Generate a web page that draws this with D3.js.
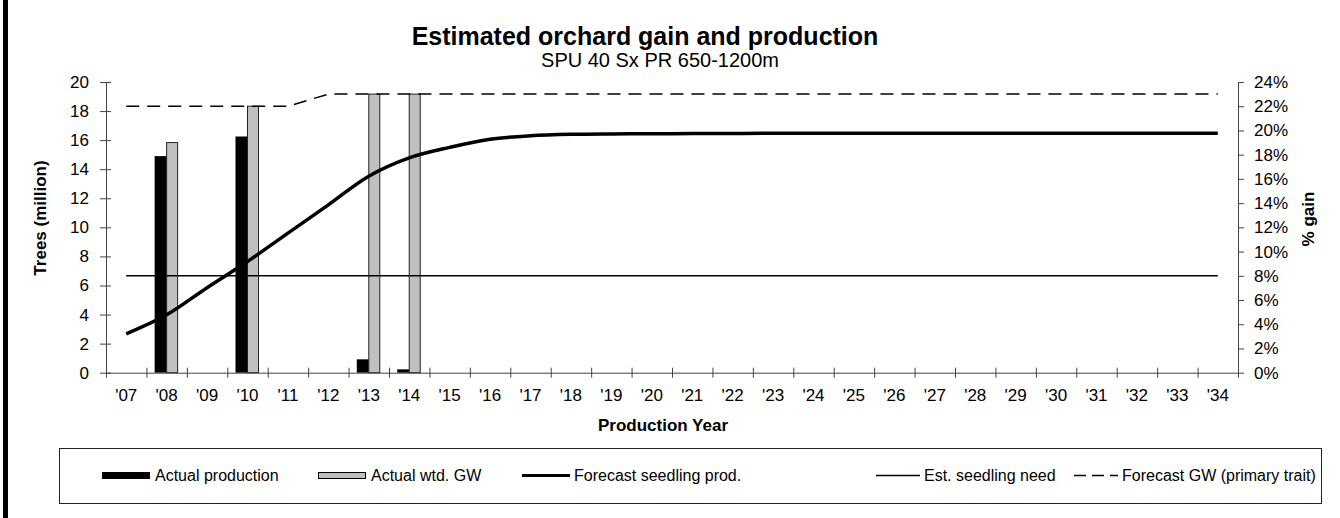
<!DOCTYPE html>
<html>
<head>
<meta charset="utf-8">
<script src="https://cdn.jsdelivr.net/npm/d3@7"></script>
<style>
  body { margin: 0; background: #fff; }
  svg { font-family: Arial, "Liberation Sans", sans-serif; }
  .axis text { font-size: 17px; fill: #000; }
  .axis path, .axis line { stroke: #444; }
  .legend text { font-size: 16px; }
</style>
</head>
<body>
<div id="chart"></div>
<script>
const years = ["'07","'08","'09","'10","'11","'12","'13","'14","'15","'16","'17","'18","'19","'20",
  "'21","'22","'23","'24","'25","'26","'27","'28","'29","'30","'31","'32","'33","'34"];
// million trees (left axis)
const actualProduction = [null, 14.9, null, 16.25, null, null, 0.92, 0.23];
const forecastSeedling = [2.67, 3.98, 5.85, 7.65, 9.6, 11.55, 13.52, 14.78, 15.5, 16.06, 16.3, 16.4,
  16.43, 16.44, 16.45, 16.46, 16.47, 16.47, 16.47, 16.47, 16.47, 16.47, 16.47, 16.47, 16.47, 16.47, 16.47, 16.47];
const seedlingNeed = 6.67;
// % gain (right axis)
const actualGW = [null, 19, null, 22, null, null, 23, 23];
const forecastGW = [22, 22, 22, 22, 22, 23, 23, 23, 23, 23, 23, 23, 23, 23,
  23, 23, 23, 23, 23, 23, 23, 23, 23, 23, 23, 23, 23, 23];
const leftTicks = [0, 2, 4, 6, 8, 10, 12, 14, 16, 18, 20];
const rightTicks = [0, 2, 4, 6, 8, 10, 12, 14, 16, 18, 20, 22, 24];

const W = 1340, H = 518;
const x0 = 106, x1 = 1238, yTop = 82, yBot = 372.7;

const svg = d3.select("#chart").append("svg").attr("width", W).attr("height", H);

const x = d3.scaleBand().domain(years).range([x0, x1]);
const xEdge = d3.scaleLinear().domain([0, years.length]).range([x0, x1]);
const sub = d3.scaleBand().domain(["prod", "gw"]).range([-12, 12]);
const yL = d3.scaleLinear().domain([0, 20]).range([yBot, yTop]);
const yR = d3.scaleLinear().domain([0, 24]).range([yBot, yTop]);
const cx = d => x(d) + x.bandwidth() / 2;

// left frame edge
svg.append("rect").attr("x", 3).attr("y", 0).attr("width", 5).attr("height", H).attr("fill", "#000");

// titles
svg.append("text").attr("x", 645).attr("y", 45).attr("text-anchor", "middle")
  .attr("font-size", 25).attr("font-weight", "bold").text("Estimated orchard gain and production");
svg.append("text").attr("x", 660).attr("y", 67).attr("text-anchor", "middle")
  .attr("font-size", 20).text("SPU 40 Sx PR 650-1200m");

// bars
const prodData = years.map((y, i) => ({ year: y, v: actualProduction[i] })).filter(d => d.v != null);
const gwData = years.map((y, i) => ({ year: y, v: actualGW[i] })).filter(d => d.v != null);

svg.append("g").selectAll("rect").data(prodData).enter().append("rect")
  .attr("x", d => cx(d.year) + sub("prod")).attr("width", sub.bandwidth())
  .attr("y", d => yL(d.v)).attr("height", d => yBot - yL(d.v)).attr("fill", "#000");

svg.append("g").selectAll("rect").data(gwData).enter().append("rect")
  .attr("x", d => cx(d.year) + sub("gw")).attr("width", sub.bandwidth() - 1)
  .attr("y", d => yR(d.v)).attr("height", d => yBot - yR(d.v))
  .attr("fill", "#c0c0c0").attr("stroke", "#222").attr("stroke-width", 1);

// lines
svg.append("line").attr("x1", cx(years[0])).attr("x2", cx(years[years.length - 1]))
  .attr("y1", yL(seedlingNeed)).attr("y2", yL(seedlingNeed)).attr("stroke", "#000").attr("stroke-width", 1.5);

svg.append("path").datum(forecastGW)
  .attr("d", d3.line().x((d, i) => cx(years[i])).y(d => yR(d)))
  .attr("fill", "none").attr("stroke", "#000").attr("stroke-width", 1.5).attr("stroke-dasharray", "13,8");

svg.append("path").datum(forecastSeedling)
  .attr("d", d3.line().x((d, i) => cx(years[i])).y(d => yL(d)).curve(d3.curveCatmullRom))
  .attr("fill", "none").attr("stroke", "#000").attr("stroke-width", 3.5);

// axes
const gL = svg.append("g").attr("class", "axis").attr("transform", `translate(${x0},0)`)
  .call(d3.axisLeft(yL).tickValues(leftTicks).tickSize(6).tickSizeOuter(0).tickPadding(11));
gL.selectAll(".tick line").attr("x1", 5);

svg.append("g").attr("class", "axis").attr("transform", `translate(${x1},0)`)
  .call(d3.axisRight(yR).tickValues(rightTicks).tickFormat(d => d + "%").tickSize(6).tickSizeOuter(0).tickPadding(10));

const gX = svg.append("g").attr("class", "axis").attr("transform", `translate(0,${yBot})`)
  .call(d3.axisBottom(xEdge).tickValues(d3.range(years.length + 1)).tickFormat("").tickSize(5).tickSizeOuter(0));
gX.selectAll(".tick line").attr("y1", -5);

const gXL = svg.append("g").attr("class", "axis").attr("transform", `translate(0,${yBot})`)
  .call(d3.axisBottom(x).tickSize(0).tickPadding(16));
gXL.select(".domain").remove();

svg.append("text").attr("x", 663).attr("y", 431).attr("text-anchor", "middle")
  .attr("font-size", 17).attr("font-weight", "bold").text("Production Year");
svg.append("text").attr("transform", "translate(46,218) rotate(-90)").attr("text-anchor", "middle")
  .attr("font-size", 17).attr("font-weight", "bold").text("Trees (million)");
svg.append("text").attr("transform", "translate(1314,219) rotate(-90)").attr("text-anchor", "middle")
  .attr("font-size", 17).attr("font-weight", "bold").text("% gain");

// legend
const lg = svg.append("g").attr("class", "legend");
lg.append("rect").attr("x", 59.5).attr("y", 448.5).attr("width", 1262).attr("height", 55)
  .attr("fill", "#fff").attr("stroke", "#222");
const ly = 475.5;
lg.append("rect").attr("x", 102).attr("y", ly - 3.5).attr("width", 48).attr("height", 7).attr("fill", "#000");
lg.append("rect").attr("x", 318.5).attr("y", ly - 3).attr("width", 47).attr("height", 6)
  .attr("fill", "#c0c0c0").attr("stroke", "#000");
lg.append("line").attr("x1", 522).attr("x2", 570).attr("y1", ly).attr("y2", ly).attr("stroke", "#000").attr("stroke-width", 3);
lg.append("line").attr("x1", 876).attr("x2", 920).attr("y1", ly).attr("y2", ly).attr("stroke", "#000").attr("stroke-width", 1.5);
lg.append("line").attr("x1", 1074).attr("x2", 1118).attr("y1", ly).attr("y2", ly).attr("stroke", "#000")
  .attr("stroke-width", 1.5).attr("stroke-dasharray", "12,6");
const legendLabels = [
  ["Actual production", 155], ["Actual wtd. GW", 371], ["Forecast seedling prod.", 574],
  ["Est. seedling need", 924], ["Forecast GW (primary trait)", 1122]
];
lg.selectAll("text.lbl").data(legendLabels).enter().append("text").attr("class", "lbl")
  .attr("x", d => d[1]).attr("y", ly).attr("dy", "0.35em").text(d => d[0]);
</script>
</body>
</html>
